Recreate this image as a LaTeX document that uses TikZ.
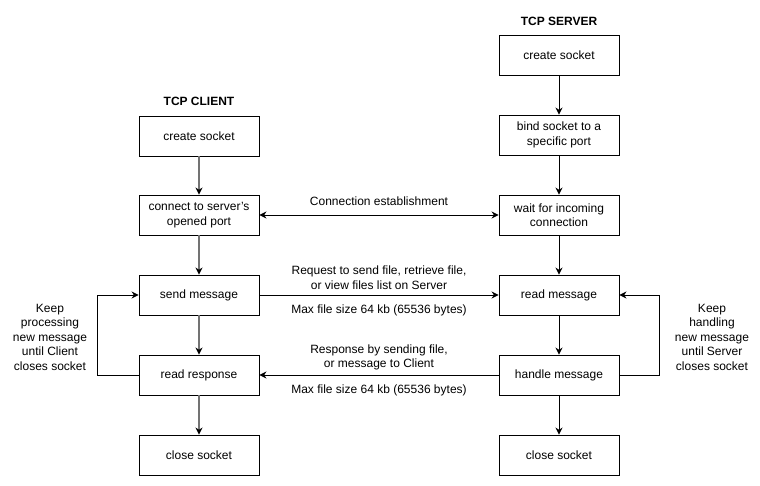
\documentclass[tikz,border=0pt]{standalone}
\usepackage{fontspec}
\setmainfont{Liberation Sans}
\usetikzlibrary{arrows.meta}
\begin{document}
\begin{tikzpicture}[x=1pt,y=-1pt,
  font=\fontsize{12}{14.5}\selectfont,
  box/.style={draw=black,line width=0.9pt,minimum width=120pt,minimum height=40pt,align=center,inner sep=2pt},
  title/.style={font=\fontsize{12}{14}\selectfont\bfseries},
  lbl/.style={align=center,inner sep=0pt},
  garr/.style={draw=gray!90!black,line width=1.3pt,-{Stealth[length=7pt,width=7pt,color=black]}},
  barr/.style={draw=black,line width=0.9pt,-{Stealth[length=7pt,width=7pt]}},
  dbarr/.style={draw=black,line width=0.9pt,{Stealth[length=7pt,width=7pt]}-{Stealth[length=7pt,width=7pt]}}]
\useasboundingbox (0,0) rectangle (760,486);
\fill[white] (0,0) rectangle (760,486);
% titles
\node[title] (tc) at (199,101) {TCP CLIENT};
\node[title] (ts) at (559,21) {TCP SERVER};
% client
\node[box] (c1) at (199,136) {create socket};
\node[box] (c2) at (199,215) {connect to server\symbol{39}s\\opened port};
\node[box] (c3) at (199,295) {send message};
\node[box] (c4) at (199,375) {read response};
\node[box] (c5) at (199,455) {close socket};
% server
\node[box] (s1) at (559,55) {create socket};
\node[box] (s2) at (559,135) {bind socket to a\\specific port};
\node[box] (s3) at (559,215) {wait for incoming\\connection};
\node[box] (s4) at (559,295) {read message};
\node[box] (s5) at (559,375) {handle message};
\node[box] (s6) at (559,455) {close socket};
% vertical arrows
\draw[garr] (c1) -- (c2);
\draw[garr] (c2) -- (c3);
\draw[garr] (c3) -- (c4);
\draw[garr] (c4) -- (c5);
\draw[barr] (s1) -- (s2);
\draw[barr] (s2) -- (s3);
\draw[barr] (s3) -- (s4);
\draw[barr] (s4) -- (s5);
\draw[barr] (s5) -- (s6);
% horizontal
\draw[dbarr] (c2) -- (s3);
\draw[barr] (c3) -- (s4);
\draw[barr] (s5) -- (c4);
\node[lbl] (l1) at (379,201) {Connection establishment};
\node[lbl] (l2) at (379,277.5) {Request to send file, retrieve file,\\or view files list on Server};
\node[lbl] (l3) at (379,310) {Max file size 64 kb (65536 bytes)};
\node[lbl] (l4) at (379,357.5) {Response by sending file,\\or message to Client};
\node[lbl] (l5) at (379,390) {Max file size 64 kb (65536 bytes)};
% loops
\coordinate (cl1) at (97,375);
\coordinate (cl2) at (97,295);
\draw[barr] (c4.west) -- (cl1) -- (cl2) -- (c3.west);
\coordinate (sl1) at (659,375);
\coordinate (sl2) at (659,295);
\draw[barr] (s5.east) -- (sl1) -- (sl2) -- (s4.east);
\node[lbl] (k1) at (50,337) {Keep\\processing\\new message\\until Client\\closes socket};
\node[lbl] (k2) at (712,337) {Keep\\handling\\new message\\until Server\\closes socket};
\end{tikzpicture}
\end{document}
